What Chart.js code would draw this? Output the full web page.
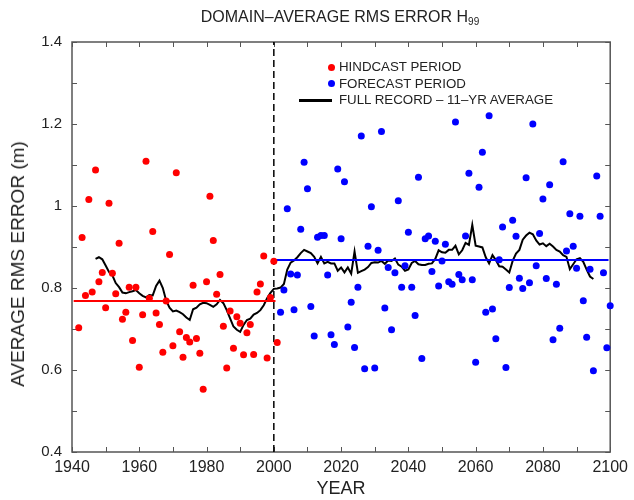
<!DOCTYPE html>
<html>
<head>
<meta charset="utf-8">
<script src="https://cdn.jsdelivr.net/npm/chart.js@4.4.0/dist/chart.umd.min.js"></script>
<style>
  html, body { margin: 0; padding: 0; background: #fff; }
  #wrap { position: relative; width: 634px; height: 500px; font-family: "Liberation Sans", Arial, Helvetica, sans-serif; color: #222; }
  #title { position: absolute; top: 9px; left: 0; width: 680px; text-align: center; font-size: 16px; line-height: 16px; }
  #title sub { font-size: 10px; vertical-align: -3px; line-height: 0; }
  #ytitle { position: absolute; left: 18px; top: 264px; width: 0; height: 0; }
  #ytitle span { position: absolute; transform: translate(-50%, -50%) rotate(-90deg); white-space: nowrap; font-size: 19px; line-height: 20px; }
  #legend { position: absolute; left: 0; top: 0; font-size: 13.3px; }
  .row { position: absolute; white-space: nowrap; height: 16px; line-height: 16px; }
  .dot { position: absolute; width: 7px; height: 7px; border-radius: 50%; top: 4.5px; }
  .bar { position: absolute; height: 2.5px; top: 7px; }
  .txt { position: absolute; left: 41px; top: 0; }
</style>
</head>
<body>
<div id="wrap">
  <canvas id="rmsChart" width="634" height="500"></canvas>
  <div id="title">DOMAIN&ndash;AVERAGE RMS ERROR H<sub>99</sub></div>
  <div id="ytitle"><span>AVERAGE RMS ERROR (m)</span></div>
  <div id="legend"></div>
</div>
<script>
// hindcast values, one per year starting at hindcastStart
const hindcastStart = 1942;
const hindcastValues = [
  0.703, 0.923, 0.782, 1.016, 0.790, 1.088, 0.815, 0.838, 0.752, 1.007,
  0.836, 0.786, 0.909, 0.724, 0.741, 0.802, 0.672, 0.802, 0.607, 0.735,
  1.109, 0.775, 0.938, 0.739, 0.711, 0.643, 0.768, 0.882, 0.659, 1.081,
  0.693, 0.631, 0.679, 0.668, 0.807, 0.677, 0.641, 0.553, 0.815, 1.024,
  0.916, 0.785, 0.833, 0.707, 0.605, 0.744, 0.653, 0.730, 0.714, 0.637,
  0.691, 0.711, 0.638, 0.790, 0.810, 0.878, 0.629, 0.777, 0.865, 0.667
];

// forecast values, one per year starting at forecastStart
const forecastStart = 2002;
const forecastValues = [
  0.741, 0.795, 0.993, 0.834, 0.747, 0.832, 0.943, 1.107, 1.042, 0.755,
  0.683, 0.924, 0.928, 0.928, 0.832, 0.686, 0.662, 1.090, 0.920, 1.059,
  0.705, 0.765, 0.655, 0.802, 1.171, 0.603, 0.902, 0.998, 0.605, 0.892,
  1.182, 0.751, 0.850, 0.698, 0.837, 1.013, 0.802, 0.854, 0.936, 0.802,
  0.733, 1.070, 0.628, 0.920, 0.927, 0.840, 0.914, 0.805, 0.866, 0.907,
  0.815, 0.809, 1.205, 0.833, 0.820, 0.927, 1.080, 0.820, 0.619, 1.046,
  1.131, 0.741, 1.220, 0.749, 0.676, 0.869, 0.949, 0.606, 0.801, 0.965,
  0.926, 0.824, 0.799, 1.069, 0.813, 1.200, 0.854, 0.933, 1.017, 0.823,
  1.052, 0.674, 0.809, 0.702, 1.108, 0.890, 0.981, 0.902, 0.848, 0.975,
  0.769, 0.680, 0.846, 0.598, 1.073, 0.975, 0.837, 0.654, 0.757
];

// 11-year running average over the full record
const averageStart = 1947;
const averageValues = [
  0.871, 0.875, 0.870, 0.855, 0.839, 0.831, 0.812, 0.802, 0.789, 0.787,
  0.790, 0.792, 0.795, 0.787, 0.781, 0.777, 0.783, 0.782, 0.805, 0.818,
  0.800, 0.769, 0.752, 0.743, 0.745, 0.741, 0.736, 0.728, 0.722, 0.748,
  0.752, 0.760, 0.764, 0.763, 0.759, 0.754, 0.760, 0.771, 0.763, 0.746,
  0.726, 0.706, 0.698, 0.693, 0.710, 0.722, 0.725, 0.735, 0.739, 0.746,
  0.758, 0.775, 0.788, 0.798, 0.799,
  0.801, 0.810, 0.845, 0.862, 0.867, 0.875, 0.885, 0.893, 0.889, 0.885,
  0.876, 0.860, 0.876, 0.860, 0.864, 0.860, 0.860, 0.842, 0.850, 0.838,
  0.850, 0.835, 0.889, 0.837, 0.841, 0.845, 0.851, 0.861, 0.863, 0.862,
  0.866, 0.859, 0.867, 0.866, 0.872, 0.857, 0.852, 0.842, 0.845, 0.861,
  0.866, 0.858, 0.856, 0.856, 0.859, 0.860, 0.871, 0.892,
  0.887, 0.886, 0.893, 0.893, 0.903, 0.882, 0.892, 0.910, 0.905, 0.954,
  0.903, 0.901, 0.899, 0.875, 0.860, 0.880, 0.868, 0.853, 0.852, 0.845,
  0.838, 0.866, 0.884, 0.893, 0.918, 0.928, 0.935, 0.931, 0.916, 0.906,
  0.909, 0.902, 0.908, 0.901, 0.893, 0.889, 0.880, 0.876, 0.846, 0.858,
  0.870, 0.873, 0.864, 0.845, 0.828, 0.822
];

// period means and the years they span
const hindcastMean = 0.768;
const forecastMean = 0.868;
const hindcastSpan = [1940.5, 2000.5];
const forecastSpan = [2000.5, 2099.5];
const splitYear = 2000;

// axes
const yearTicks = [1940, 1960, 1980, 2000, 2020, 2040, 2060, 2080, 2100];
const yearMinor = [1940, 1950, 1960, 1970, 1980, 1990, 2000, 2010, 2020, 2030, 2040, 2050, 2060, 2070, 2080, 2090, 2100];
const errorTicks = [0.4, 0.6, 0.8, 1.0, 1.2, 1.4];
const errorMinor = [0.4, 0.5, 0.6, 0.7, 0.8, 0.9, 1.0, 1.1, 1.2, 1.3, 1.4];

const toPoints = (start, values) => values.map((v, i) => ({ x: start + i, y: v }));
const fontFamily = '"Liberation Sans", Arial, Helvetica, sans-serif';
const axisColor = '#555';

// box around the plot with inward ticks on all four sides
const framePlugin = {
  id: 'frame',
  beforeDatasetsDraw(chart) {
    const { ctx, chartArea: a, scales: { x, y } } = chart;
    ctx.save();
    ctx.strokeStyle = axisColor;
    ctx.lineWidth = 1.5;
    ctx.strokeRect(a.left, a.top, a.right - a.left, a.bottom - a.top);
    ctx.lineWidth = 1;
    ctx.beginPath();
    yearMinor.forEach(v => {
      const px = Math.round(x.getPixelForValue(v)) + 0.5;
      ctx.moveTo(px, a.bottom); ctx.lineTo(px, a.bottom - 5);
      ctx.moveTo(px, a.top); ctx.lineTo(px, a.top + 5);
    });
    errorMinor.forEach(v => {
      const py = Math.round(y.getPixelForValue(v)) + 0.5;
      ctx.moveTo(a.left, py); ctx.lineTo(a.left + 5, py);
      ctx.moveTo(a.right, py); ctx.lineTo(a.right - 5, py);
    });
    ctx.stroke();
    ctx.restore();
  }
};

const chart = new Chart(document.getElementById('rmsChart'), {
  type: 'scatter',
  data: {
    datasets: [
      {
        label: 'HINDCAST PERIOD',
        data: toPoints(hindcastStart, hindcastValues),
        backgroundColor: '#ff0000',
        borderWidth: 0,
        pointRadius: 3.5,
        clip: false,
        order: 0
      },
      {
        label: 'FORECAST PERIOD',
        data: toPoints(forecastStart, forecastValues),
        backgroundColor: '#0000ff',
        borderWidth: 0,
        pointRadius: 3.5,
        clip: false,
        order: 0
      },
      {
        label: 'FULL RECORD \u2013 11\u2013YR AVERAGE',
        data: toPoints(averageStart, averageValues),
        showLine: true,
        borderColor: '#000',
        borderWidth: 2,
        pointRadius: 0,
        order: 2
      },
      {
        label: 'hindcast mean',
        data: hindcastSpan.map(x => ({ x, y: hindcastMean })),
        showLine: true,
        borderColor: '#ff0000',
        borderWidth: 2,
        pointRadius: 0,
        order: 1
      },
      {
        label: 'forecast mean',
        data: forecastSpan.map(x => ({ x, y: forecastMean })),
        showLine: true,
        borderColor: '#0000ff',
        borderWidth: 2,
        pointRadius: 0,
        order: 1
      },
      {
        label: 'split',
        data: [{ x: splitYear, y: errorTicks[0] }, { x: splitYear, y: errorTicks[errorTicks.length - 1] }],
        showLine: true,
        borderColor: '#000',
        borderWidth: 1.5,
        borderDash: [7, 4],
        pointRadius: 0,
        order: 3
      }
    ]
  },
  options: {
    responsive: false,
    animation: false,
    events: [],
    layout: { padding: { top: 42, right: 19, left: 0, bottom: 0 } },
    plugins: {
      legend: { display: false },
      tooltip: { enabled: false }
    },
    scales: {
      x: {
        type: 'linear',
        min: yearTicks[0],
        max: yearTicks[yearTicks.length - 1],
        afterBuildTicks: s => { s.ticks = yearTicks.map(v => ({ value: v })); },
        afterFit: s => { s.height = 48; },
        grid: { display: false, drawTicks: false },
        border: { display: false },
        ticks: {
          padding: 6,
          maxRotation: 0,
          color: '#222',
          font: { family: fontFamily, size: 16 },
          callback: v => String(v)
        },
        title: {
          display: true,
          text: 'YEAR',
          color: '#222',
          padding: { top: 0, bottom: 0 },
          font: { family: fontFamily, size: 18 }
        }
      },
      y: {
        min: errorTicks[0],
        max: errorTicks[errorTicks.length - 1],
        afterBuildTicks: s => { s.ticks = errorTicks.map(v => ({ value: v })); },
        afterFit: s => { s.width = 72; },
        grid: { display: false, drawTicks: false },
        border: { display: false },
        ticks: {
          padding: 10,
          color: '#222',
          font: { family: fontFamily, size: 15 },
          callback: v => String(Math.round(v * 10) / 10)
        },
        title: { display: false }
      }
    }
  },
  plugins: [framePlugin]
});

// legend inside the plot, built from the first three datasets
const legendBox = document.getElementById('legend');
const legendLeft = 298, legendTop = 59, rowStep = 16.7;
chart.data.datasets.slice(0, 3).forEach((ds, i) => {
  const row = document.createElement('div');
  row.className = 'row';
  row.style.left = legendLeft + 'px';
  row.style.top = (legendTop + i * rowStep) + 'px';
  const mark = document.createElement('span');
  if (ds.showLine) {
    mark.className = 'bar';
    mark.style.left = '1px';
    mark.style.width = '33px';
    mark.style.background = ds.borderColor;
  } else {
    mark.className = 'dot';
    mark.style.left = '29.5px';
    mark.style.background = ds.backgroundColor;
  }
  const txt = document.createElement('span');
  txt.className = 'txt';
  txt.textContent = ds.label;
  row.appendChild(mark);
  row.appendChild(txt);
  legendBox.appendChild(row);
});
</script>
</body>
</html>
